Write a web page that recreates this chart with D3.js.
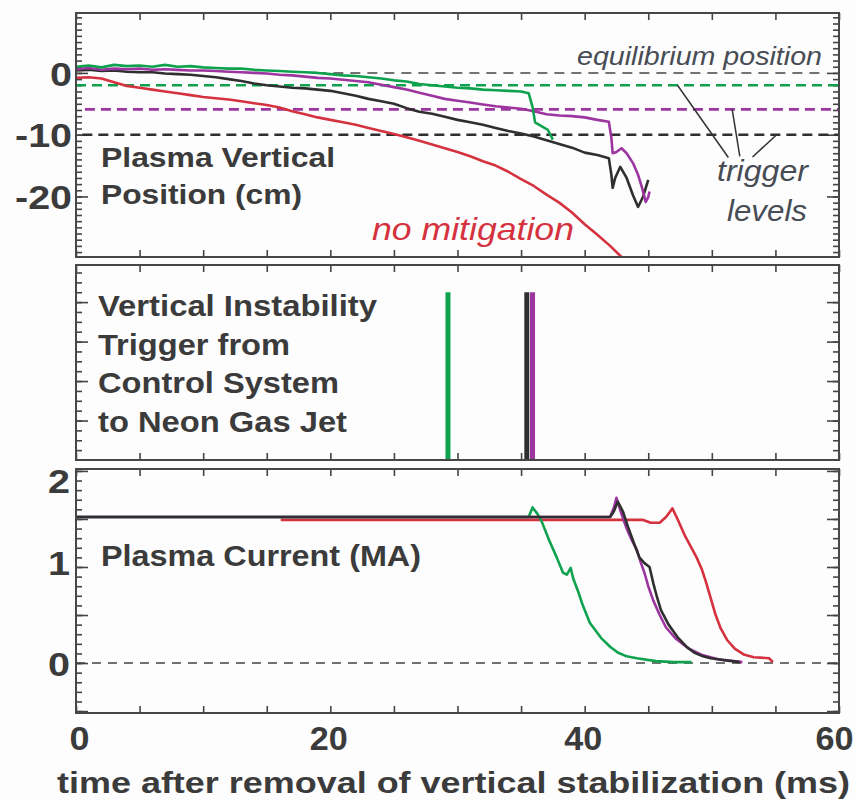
<!DOCTYPE html>
<html><head><meta charset="utf-8">
<script src="https://cdn.jsdelivr.net/npm/d3@7"></script>
<style>
html,body{margin:0;padding:0;background:#fff;}
svg{display:block;}
text{font-family:"Liberation Sans",Arial,Helvetica,sans-serif;}
</style></head>
<body><svg id="chart" width="856" height="800"></svg>
<script>
// ---------------- DATA ----------------
// Panel 1: plasma vertical position (cm) vs time (ms)
const posRed = [[0,-0.8],[1,-0.7],[2,-0.9],[3,-1.5],[4,-2.1],[5,-2.4],[6,-2.7],[7,-3.0],[8,-3.3],[9,-3.6],[10,-3.9],[11,-4.1],[12,-4.3],[13,-4.6],[14,-4.9],[15,-5.2],[16,-5.6],[17,-6.2],[18,-6.7],[19,-7.2],[20,-7.6],[21,-8.0],[22,-8.4],[23,-8.9],[24,-9.4],[25,-9.9],[26,-10.4],[27,-11.0],[28,-11.6],[29,-12.2],[30,-12.8],[31,-13.5],[32,-14.3],[33,-15.0],[34,-16.0],[35,-17.2],[36,-18.3],[37,-19.7],[38,-21.0],[39,-22.6],[40,-24.5],[41,-26.2],[42,-28.0],[43,-30.0],[43.5,-31.0]];
const posGreen = [[0,1.0],[1,1.2],[2,0.9],[3,1.3],[4,1.1],[5,1.2],[6,1.0],[7,1.3],[8,1.0],[9,1.1],[10,0.9],[11,0.8],[12,0.7],[13,0.7],[14,0.5],[15,0.4],[16,0.3],[17,0.2],[18,0.1],[19,0.0],[20,-0.2],[21,-0.4],[22,-0.5],[23,-0.7],[24,-0.9],[25,-1.2],[26,-1.4],[27,-1.8],[28,-2.0],[29,-2.2],[30,-2.4],[31,-2.5],[32,-2.7],[33,-2.8],[34,-2.9],[35,-3.0],[35.6,-3.3],[35.9,-5.5],[36.1,-8.0],[36.6,-8.6],[37.1,-9.2],[37.5,-10.8]];
const posPurple = [[0,0.6],[1,0.8],[2,0.5],[3,0.7],[4,0.6],[5,0.7],[6,0.5],[7,0.6],[8,0.5],[9,0.4],[10,0.4],[11,0.3],[12,0.2],[13,0.1],[14,0.0],[15,-0.1],[16,-0.3],[17,-0.4],[18,-0.6],[19,-0.8],[20,-0.9],[21,-1.1],[22,-1.3],[23,-1.5],[24,-1.9],[25,-2.3],[26,-2.7],[27,-3.2],[28,-3.7],[29,-4.2],[30,-4.5],[31,-4.8],[32,-5.1],[33,-5.4],[34,-5.6],[35,-5.8],[36,-6.2],[37,-6.7],[38,-6.9],[39,-7.0],[40,-7.2],[41,-7.6],[41.9,-7.9],[42.1,-10.5],[42.2,-13.0],[42.5,-12.8],[42.9,-12.2],[43.3,-13.0],[43.8,-14.6],[44.2,-16.5],[44.5,-18.5],[44.8,-20.9],[45.0,-20.1],[45.1,-19.2]];
const posBlack = [[0,0.4],[1,0.5],[2,0.3],[3,0.4],[4,0.2],[5,0.1],[6,0.1],[7,-0.1],[8,-0.2],[9,-0.3],[10,-0.5],[11,-0.7],[12,-1.0],[13,-1.3],[14,-1.7],[15,-2.0],[16,-2.2],[17,-2.4],[18,-2.5],[19,-2.7],[20,-2.9],[21,-3.3],[22,-3.7],[23,-4.2],[24,-4.6],[25,-5.0],[26,-5.7],[27,-6.3],[28,-6.6],[29,-7.1],[30,-7.6],[31,-8.0],[32,-8.4],[33,-8.9],[34,-9.4],[35,-9.8],[36,-10.3],[37,-10.9],[38,-11.5],[39,-12.1],[40,-12.9],[41,-13.3],[41.9,-13.8],[42.1,-16.5],[42.2,-18.6],[42.4,-17.0],[42.8,-15.2],[43.3,-17.0],[43.8,-19.8],[44.2,-21.7],[44.6,-20.0],[45.0,-17.3]];
// trigger levels (cm) and equilibrium
const triggerLevels = [{name:"green",level:-2.0,start:0},{name:"purple",level:-5.9,start:0.7},{name:"black",level:-10.0,start:0.5}];
const equilibrium = {level:0, start:18.9, end:58.6};

// Panel 2: trigger times (ms)
const triggerTimes = [{name:"green",t:29.25},{name:"black",t:35.45},{name:"purple",t:35.9}];
const triggerHeight = 4.25;

// Panel 3: plasma current (MA)
const curRed = [[16.1,1.49],[44.6,1.49],[45.2,1.46],[45.9,1.46],[46.4,1.52],[46.9,1.61],[47.3,1.50],[47.9,1.32],[48.4,1.20],[48.8,1.10],[49.2,0.98],[49.5,0.86],[49.9,0.68],[50.3,0.50],[50.7,0.36],[51.2,0.24],[51.8,0.15],[52.5,0.09],[53.3,0.06],[54.5,0.05],[54.8,0.01]];
const curGreen = [[0,1.52],[35.6,1.52],[35.9,1.62],[36.3,1.55],[36.6,1.48],[37.2,1.28],[37.8,1.10],[38.3,0.94],[38.6,0.92],[38.9,0.99],[39.1,0.88],[39.5,0.74],[39.8,0.62],[40.4,0.42],[41.3,0.26],[42.0,0.17],[42.6,0.11],[43.3,0.07],[44.1,0.05],[45.6,0.02],[47,0.01],[48.4,0.01]];
const curPurple = [[0,1.52],[42.0,1.52],[42.3,1.62],[42.5,1.72],[42.9,1.55],[43.3,1.40],[43.7,1.28],[44.1,1.18],[44.4,1.05],[44.7,0.94],[45.0,0.80],[45.4,0.65],[45.9,0.50],[46.4,0.37],[47.2,0.25],[48.2,0.15],[49.3,0.08],[50.5,0.04],[52.4,0.01]];
const curBlack = [[0,1.52],[42.0,1.52],[42.3,1.58],[42.6,1.68],[43.0,1.58],[43.4,1.42],[43.9,1.24],[44.3,1.10],[44.7,1.04],[45.1,1.00],[45.4,0.83],[45.7,0.68],[46.0,0.55],[46.6,0.40],[47.3,0.27],[48.0,0.17],[48.6,0.11],[49.3,0.07],[49.9,0.05],[51,0.03],[52.2,0.01]];

// tick values
const timeTicks = d3.range(0, 61, 5);
const timeLabels = [0, 20, 40, 60];
const posMinor = d3.range(-29, 10, 1);
const posMajor = [-20, -10, 0];
const trigMinor = d3.range(0.25, 4.9, 0.25);
const trigMajor = [1, 2, 3, 4];
const curMinor = d3.range(-5, 21, 1).map(d => d / 10);
const curMajor = [-0.5, 0, 0.5, 1, 1.5, 2];
const curLabels = [0, 1, 2];

// ---------------- STYLE ----------------
const colors = {red:"#d5323f", green:"#0fa24e", purple:"#9c35a0", black:"#2f2f2f"};
const ink = "#3b3b3b";

const svg = d3.select("#chart");
svg.append("rect").attr("width",856).attr("height",800).attr("fill","#fdfdfd");

const L = 76, R = 839;
const x = d3.scaleLinear().domain([0,60]).range([L,R]);
const yPos = d3.scaleLinear().domain([-29.8, 9.7]).range([257, 13]);
const yTrig = d3.scaleLinear().domain([0, 4.94]).range([460, 265]);
const yCur = d3.scaleLinear().domain([-0.52, 2.02]).range([713, 469]);

const panels = [
  {y: yPos, top:13, bottom:257, minor:posMinor, major:posMajor, labels:posMajor, minorLen:6, majorLen:12},
  {y: yTrig, top:265, bottom:460, minor:trigMinor, major:trigMajor, labels:[], minorLen:6, majorLen:12},
  {y: yCur, top:469, bottom:713, minor:curMinor, major:curMajor, labels:curLabels, minorLen:6, majorLen:12}
];

function styleAxis(g){
  g.select(".domain").remove();
  g.selectAll(".tick line").attr("stroke","#444").attr("stroke-width",1.6);
}

panels.forEach((p, i) => {
  const clipId = "clip" + i;
  svg.append("clipPath").attr("id", clipId).append("rect")
    .attr("x", L).attr("y", p.top).attr("width", R - L).attr("height", p.bottom - p.top);
  p.clip = "url(#" + clipId + ")";
  svg.append("g").attr("transform",`translate(${L},0)`)
    .call(d3.axisLeft(p.y).tickValues(p.minor).tickSize(-p.minorLen).tickFormat("")).call(styleAxis);
  svg.append("g").attr("transform",`translate(${R},0)`)
    .call(d3.axisRight(p.y).tickValues(p.minor).tickSize(-p.minorLen).tickFormat("")).call(styleAxis);
  svg.append("g").attr("transform",`translate(${L},0)`)
    .call(d3.axisLeft(p.y).tickValues(p.major).tickSize(-p.majorLen).tickFormat("")).call(styleAxis);
  svg.append("g").attr("transform",`translate(${R},0)`)
    .call(d3.axisRight(p.y).tickValues(p.major).tickSize(-p.majorLen).tickFormat("")).call(styleAxis);
  if (p.labels.length) {
    const g = svg.append("g").attr("transform",`translate(${L},0)`)
      .call(d3.axisLeft(p.y).tickValues(p.labels).tickSize(0).tickPadding(i === 0 ? 4 : 6).tickFormat(d => String(d)))
      .call(g => g.select(".domain").remove());
    g.selectAll("text").attr("font-size", 34).attr("font-weight","bold").attr("fill", ink)
      .attr("font-family","'Liberation Sans',Arial,sans-serif")
      .attr("textLength", d => String(d).length === 1 ? 22 : 57)
      .attr("lengthAdjust","spacingAndGlyphs")
      .attr("dy", d => (i === 2 && d === 2) ? "0.62em" : (i === 2 && d === 1) ? "0.22em" : "0.36em");
  }
  svg.append("g").attr("transform",`translate(0,${p.top})`)
    .call(d3.axisTop(x).tickValues(timeTicks).tickSize(-7).tickFormat("")).call(styleAxis);
  svg.append("g").attr("transform",`translate(0,${p.bottom})`)
    .call(d3.axisBottom(x).tickValues(timeTicks).tickSize(-7).tickFormat("")).call(styleAxis);
});

const line = (ys) => d3.line().x(d => x(d[0])).y(d => ys(d[1]));

// ---------- Panel 1 ----------
const p1 = svg.append("g").attr("clip-path", panels[0].clip);
p1.append("path").datum([[equilibrium.start, equilibrium.level],[equilibrium.end, equilibrium.level]])
  .attr("d", line(yPos)).attr("fill","none").attr("stroke","#444").attr("stroke-width",1.5)
  .attr("stroke-dasharray","10,7");
triggerLevels.forEach(tl => {
  p1.append("path").datum([[tl.start, tl.level],[60, tl.level]])
    .attr("d", line(yPos)).attr("fill","none").attr("stroke", colors[tl.name])
    .attr("stroke-width", 2.6).attr("stroke-dasharray","10,6");
});
[["red",posRed],["black",posBlack],["purple",posPurple],["green",posGreen]].forEach(([c, data]) => {
  p1.append("path").datum(data).attr("d", line(yPos)).attr("fill","none")
    .attr("stroke", colors[c]).attr("stroke-width", 2.6).attr("stroke-linejoin","round");
});

const pointers = [
  [[47.3, triggerLevels[0].level], [51.3, -13.7]],
  [[51.6, triggerLevels[1].level], [52.2, -13.5]],
  [[55.1, triggerLevels[2].level], [53.2, -13.6]]
];
pointers.forEach(pt => {
  svg.append("path").datum(pt).attr("d", line(yPos)).attr("fill","none")
    .attr("stroke","#333").attr("stroke-width",1.5);
});

function label(txt, xx, yy, size, len, opts = {}) {
  return svg.append("text").attr("x", xx).attr("y", yy).text(txt)
    .attr("font-size", size).attr("font-weight", opts.italic ? "normal" : "bold")
    .attr("font-style", opts.italic ? "italic" : "normal")
    .attr("fill", opts.fill || ink)
    .attr("textLength", len).attr("lengthAdjust","spacingAndGlyphs");
}
label("Plasma Vertical", 101, 167, 28, 234);
label("Position (cm)", 101, 204, 28, 201);
label("no mitigation", 372, 240, 32, 202, {italic:true, fill:colors.red});
label("equilibrium position", 577, 65, 26, 245, {italic:true, fill:"#474c55"});
label("trigger", 717, 181, 29, 91, {italic:true, fill:"#474c55"});
label("levels", 727, 221, 29, 80, {italic:true, fill:"#474c55"});

// ---------- Panel 2 ----------
const p2 = svg.append("g").attr("clip-path", panels[1].clip);
triggerTimes.forEach(tt => {
  p2.append("line").attr("x1", x(tt.t)).attr("x2", x(tt.t))
    .attr("y1", yTrig(0)).attr("y2", yTrig(triggerHeight))
    .attr("stroke", colors[tt.name]).attr("stroke-width", 5);
});
label("Vertical Instability", 98, 316, 30, 279);
label("Trigger from", 98, 355, 30, 192);
label("Control System", 98, 393, 30, 241);
label("to Neon Gas Jet", 98, 432, 30, 249);

// ---------- Panel 3 ----------
const p3 = svg.append("g").attr("clip-path", panels[2].clip);
p3.append("path").datum([[0,0],[60,0]]).attr("d", line(yCur)).attr("fill","none")
  .attr("stroke","#444").attr("stroke-width",1.5).attr("stroke-dasharray","9,7");
[["red",curRed],["green",curGreen],["purple",curPurple],["black",curBlack]].forEach(([c, data]) => {
  p3.append("path").datum(data).attr("d", line(yCur)).attr("fill","none")
    .attr("stroke", colors[c]).attr("stroke-width", 2.6).attr("stroke-linejoin","round");
});
label("Plasma Current (MA)", 101, 566, 29, 320);

// frames
panels.forEach(p => {
  svg.append("rect").attr("x", L).attr("y", p.top).attr("width", R - L).attr("height", p.bottom - p.top)
    .attr("fill","none").attr("stroke","#474747").attr("stroke-width",2);
});

// x tick labels
const xl = svg.append("g").attr("transform","translate(0,713)")
  .call(d3.axisBottom(x).tickValues(timeLabels).tickSize(0).tickPadding(14).tickFormat(d => String(d)))
  .call(g => g.select(".domain").remove());
xl.selectAll("text").attr("font-size",33).attr("font-weight","bold").attr("fill",ink)
  .attr("font-family","'Liberation Sans',Arial,sans-serif")
  .attr("dx", d => d === 0 ? 3 : d === 60 ? -5 : -2)
  .attr("textLength", d => String(d).length === 1 ? 20 : 38)
  .attr("lengthAdjust","spacingAndGlyphs");

// x axis title
label("time after removal of vertical stabilization (ms)", 57, 793, 29, 793);
</script>
</body></html>
